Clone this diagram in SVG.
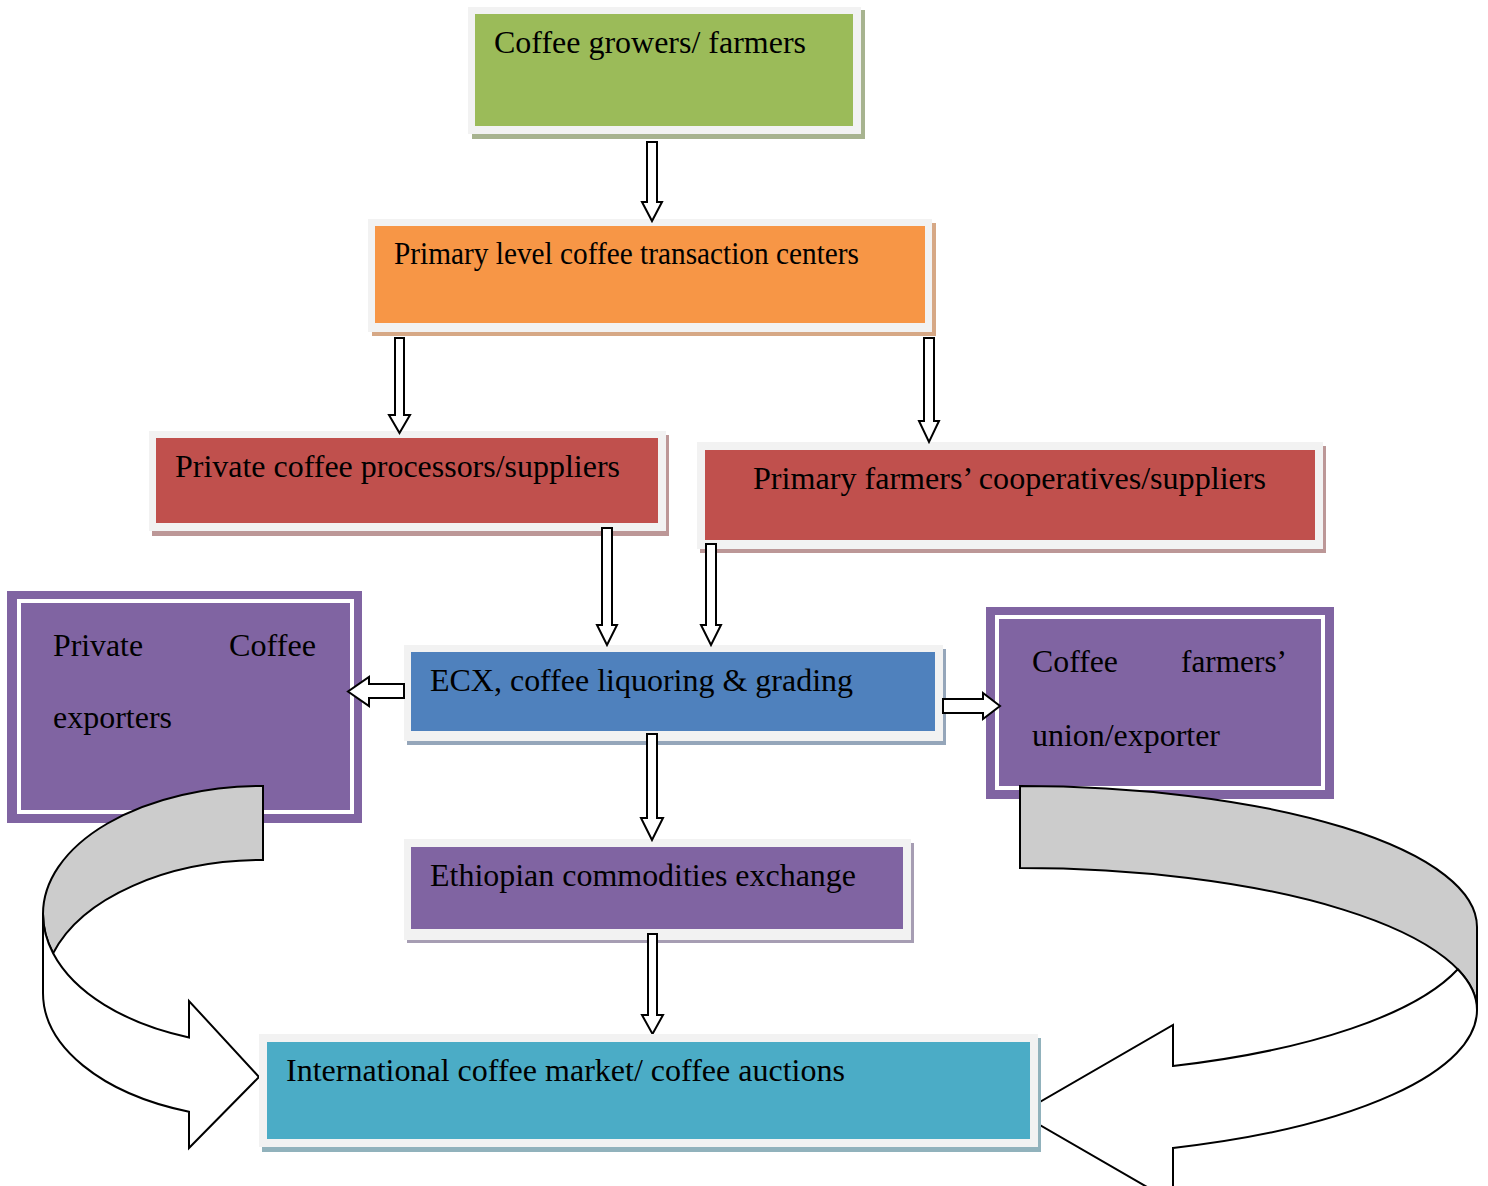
<svg xmlns="http://www.w3.org/2000/svg" width="1488" height="1186" viewBox="0 0 1488 1186">
<style>
.frame{fill:#f2f2f2}
.t{font-family:"Liberation Serif","Times New Roman",serif;font-size:31px;fill:#000}
.arr{fill:#fff;stroke:#000;stroke-width:2;stroke-linejoin:miter}
.ribbon{stroke:#000;stroke-width:2;stroke-linejoin:miter}
</style>
<rect width="1488" height="1186" fill="#fff"/>

<g id="node-growers">
<rect x="472" y="10" width="393" height="129" fill="#a7b38f"/>
<rect class="frame" x="468" y="7" width="393" height="127"/>
<rect x="475" y="14" width="378" height="112" fill="#9bbb59"/>
<text class="t" x="494" y="53" textLength="312" lengthAdjust="spacingAndGlyphs">Coffee growers/ farmers</text>
</g>

<g id="node-primary-centers">
<rect x="372" y="223" width="564" height="113" fill="#d6a886"/>
<rect class="frame" x="368" y="219" width="564" height="113"/>
<rect x="375" y="226" width="550" height="97" fill="#f79646"/>
<text class="t" x="394" y="264" textLength="465" lengthAdjust="spacingAndGlyphs">Primary level coffee transaction centers</text>
</g>

<g id="node-private-processors">
<rect x="152" y="435" width="517" height="101" fill="#bc9797"/>
<rect class="frame" x="149" y="431" width="517" height="100"/>
<rect x="156" y="438" width="502" height="85" fill="#c0504d"/>
<text class="t" x="175" y="477" textLength="445" lengthAdjust="spacingAndGlyphs">Private coffee processors/suppliers</text>
</g>

<g id="node-cooperatives">
<rect x="700" y="446" width="626" height="107" fill="#bc9797"/>
<rect class="frame" x="697" y="442" width="626" height="107"/>
<rect x="705" y="450" width="610" height="90" fill="#c0504d"/>
<text class="t" x="753" y="489" textLength="513" lengthAdjust="spacingAndGlyphs">Primary farmers’ cooperatives/suppliers</text>
</g>

<g id="node-private-exporters">
<rect x="7" y="591" width="355" height="232" fill="#8064a2"/>
<rect x="19" y="601" width="333" height="211" fill="#8064a2" stroke="#fff" stroke-width="4"/>
<text class="t" x="53" y="656" textLength="90" lengthAdjust="spacingAndGlyphs">Private</text>
<text class="t" x="229" y="656" textLength="87" lengthAdjust="spacingAndGlyphs">Coffee</text>
<text class="t" x="53" y="728" textLength="119" lengthAdjust="spacingAndGlyphs">exporters</text>
</g>

<g id="node-union-exporter">
<rect x="986" y="607" width="348" height="192" fill="#8064a2"/>
<rect x="997" y="617" width="326" height="171" fill="#8064a2" stroke="#fff" stroke-width="4"/>
<text class="t" x="1032" y="672" textLength="86" lengthAdjust="spacingAndGlyphs">Coffee</text>
<text class="t" x="1181" y="672" textLength="106" lengthAdjust="spacingAndGlyphs">farmers’</text>
<text class="t" x="1032" y="746" textLength="188" lengthAdjust="spacingAndGlyphs">union/exporter</text>
</g>

<g id="node-ecx">
<rect x="407" y="649" width="539" height="96" fill="#95a6ba"/>
<rect class="frame" x="404" y="645" width="539" height="96"/>
<rect x="411" y="652" width="524" height="79" fill="#4f81bd"/>
<text class="t" x="430" y="691" textLength="423" lengthAdjust="spacingAndGlyphs">ECX, coffee liquoring &amp; grading</text>
</g>

<g id="node-ethiopian-exchange">
<rect x="407" y="843" width="507" height="100" fill="#a69db3"/>
<rect class="frame" x="404" y="839" width="507" height="101"/>
<rect x="411" y="847" width="492" height="82" fill="#8064a2"/>
<text class="t" x="430" y="886" textLength="426" lengthAdjust="spacingAndGlyphs">Ethiopian commodities exchange</text>
</g>

<g id="connectors">
<polygon class="arr" points="647,142 657,142 657,202 662,202 652,221 642,202 647,202"/>
<polygon class="arr" points="395,338 404,338 404,415 410,415 399.5,433 389,415 395,415"/>
<polygon class="arr" points="924,338 934,338 934,421 939,421 929,442 919,421 924,421"/>
<polygon class="arr" points="602,528 612,528 612,625 617,625 607,645 597,625 602,625"/>
<polygon class="arr" points="706,544 716,544 716,625 721,625 711,645 701,625 706,625"/>
<polygon class="arr" points="647,734 657,734 657,818 663,818 652,840 641,818 647,818"/>
<polygon class="arr" points="648,934 657,934 657,1015 663,1015 652.5,1034 642,1015 648,1015"/>
<polygon class="arr" points="404,684 369,684 369,677 348,691.5 369,706 369,698 404,698"/>
<polygon class="arr" points="943,699 983,699 983,693 1000,706 983,719 983,713 943,713"/>
<path class="ribbon" fill="#cccccc" d="M263,786 A220,128 0 0 0 43,914 A220,131 0 0 0 53.1,953.2 A220,133 0 0 1 263,860 Z"/>
<path class="ribbon" fill="#ffffff" d="M53.1,953.2 A220,131 0 0 0 189,1037.4 L189,1001 L259,1077 L189,1148 L189,1111.7 A220,126 0 0 1 43,993 L43,914 A220,131 0 0 0 53.1,953.2 Z"/>
<path class="ribbon" fill="#cccccc" d="M1020,786 A457,141 0 0 1 1477,927 L1477,1010 A457,142 0 0 0 1020,868 Z"/>
<path class="ribbon" fill="#ffffff" d="M1457.8,969.3 A457,147.5 0 0 1 1173,1066 L1173,1025 L1020,1113.5 L1173,1202 L1173,1148 A457,146.5 0 0 0 1477,1010 A457,142 0 0 0 1457.8,969.3 Z"/>
</g>

<g id="node-international-market">
<rect x="262" y="1038" width="779" height="114" fill="#91b2bc"/>
<rect class="frame" x="259" y="1034" width="779" height="113"/>
<rect x="267" y="1042" width="763" height="97" fill="#4bacc6"/>
<text class="t" x="286" y="1081" textLength="559" lengthAdjust="spacingAndGlyphs">International coffee market/ coffee auctions</text>
</g>
</svg>
